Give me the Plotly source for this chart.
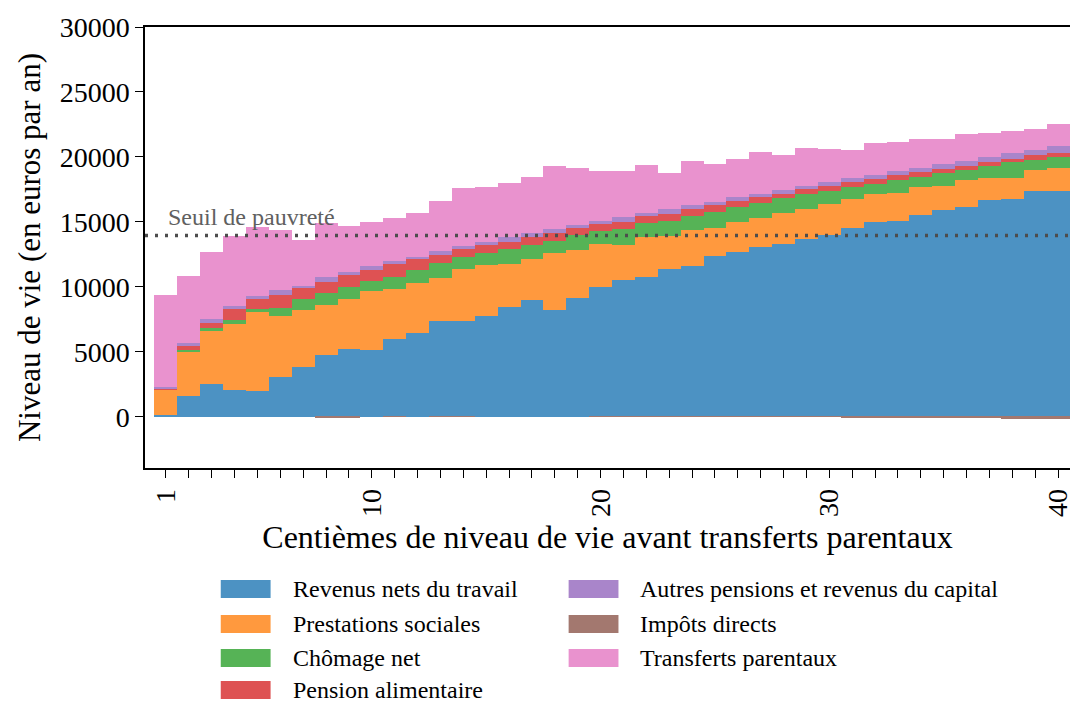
import plotly.graph_objects as go

# ---------------- data ----------------
centiles = list(range(1, 41))
revenus_travail = [100, 1615, 2540, 2077, 1954, 3054, 3823, 4769, 5184, 5161,
                   6000, 6438, 7361, 7380, 7723, 8461, 9000, 8231, 9154, 10000,
                   10515, 10746, 11338, 11615, 12338, 12646, 13053, 13261, 13669, 14000,
                   14538, 15000, 15053, 15538, 15923, 16154, 16692, 16769, 17384, 17384]
prestations = [2000, 3415, 4075, 5077, 6100, 4715, 4408, 3846, 3893, 4485,
               3846, 3870, 3331, 3958, 3923, 3262, 3107, 4338, 3646, 3308,
               2669, 3100, 2562, 2723, 2200, 2354, 2254, 2431, 2331, 2338,
               2185, 2107, 2178, 2154, 1846, 2077, 1692, 1638, 1616, 1770]
chomage = [30, 80, 230, 307, 254, 592, 846, 900, 900, 815,
           923, 1000, 1108, 970, 946, 1200, 1124, 969, 1177, 953,
           1231, 1030, 1130, 1123, 1231, 1154, 1154, 1154, 1154, 1000,
           969, 815, 1000, 769, 977, 769, 923, 1185, 769, 823]
pension_alim = [30, 350, 385, 800, 746, 1024, 876, 870, 923, 847,
                954, 800, 661, 568, 592, 538, 569, 616, 515, 585,
                561, 562, 585, 539, 515, 438, 415, 284, 338, 431,
                361, 361, 361, 362, 331, 284, 285, 254, 361, 307]
autres_pensions = [120, 210, 285, 231, 230, 361, 120, 338, 254, 284,
                   254, 200, 285, 254, 254, 339, 307, 261, 254, 231,
                   362, 208, 362, 284, 231, 308, 254, 331, 254, 284,
                   308, 308, 308, 307, 361, 439, 385, 438, 385, 539]
impots = [0, 0, 0, 0, 0, 0, 0, -30, -30, 0,
          -20, 0, -20, -20, 0, 0, 0, 0, 0, -20,
          -20, -20, -20, -20, -20, -20, -20, -20, -20, -20,
          -70, -40, -70, -70, -70, -40, -40, -150, -150, -150]
transferts = [7077, 5150, 5177, 5408, 5308, 4615, 3540, 4151, 3515, 3384,
              3307, 3361, 3846, 4462, 4231, 4200, 4354, 4892, 4408, 3846,
              3562, 3715, 2769, 3385, 2946, 2923, 3231, 2669, 2923, 2539,
              2154, 2461, 2230, 2231, 1923, 2023, 1846, 1693, 1615, 1715]
seuil_pauvrete = 13950
x_tick_labels = [1, 10, 20, 30, 40]
y_tick_values = [0, 5000, 10000, 15000, 20000, 25000, 30000]

series_names = ["Revenus nets du travail", "Prestations sociales", "Chômage net",
                "Pension alimentaire", "Autres pensions et revenus du capital",
                "Impôts directs", "Transferts parentaux"]
series_values = [revenus_travail, prestations, chomage, pension_alim,
                 autres_pensions, impots, transferts]
colors = ["#4c92c3", "#ff993e", "#56b356", "#de5253", "#a985ca", "#a3786f", "#e992ce"]

FONT = "Liberation Serif"

fig = go.Figure()
for name, vals, col in zip(series_names, series_values, colors):
    fig.add_trace(go.Bar(x=centiles, y=vals, name=name, width=1,
                         marker=dict(color=col, line=dict(width=0))))

fig.update_layout(
    width=1073, height=705,
    margin=dict(l=145, r=0, t=27, b=237),
    plot_bgcolor="white", paper_bgcolor="white",
    barmode="relative", bargap=0, showlegend=False,
    font=dict(family=FONT, color="black"),
)

fig.update_xaxes(
    range=[0.085, 40.52],
    tickmode="array", tickvals=centiles,
    ticktext=[str(c) if c in x_tick_labels else "" for c in centiles],
    tickangle=-90, ticks="outside", ticklen=8, tickwidth=1.3, tickcolor="black",
    tickfont=dict(family=FONT, size=28, color="black"),
    ticklabeloverflow="allow",
    showline=True, linecolor="black", linewidth=1.5, mirror=True,
    showgrid=False, zeroline=False,
    title=dict(text="Centièmes de niveau de vie avant transferts parentaux",
               font=dict(family=FONT, size=32, color="black"), standoff=10),
)
fig.update_yaxes(
    range=[-3950, 30000],
    tickmode="array", tickvals=y_tick_values,
    ticktext=[str(v) for v in y_tick_values],
    ticks="outside", ticklen=8, tickwidth=1.3, tickcolor="black",
    tickfont=dict(family=FONT, size=28, color="black"),
    showline=True, linecolor="black", linewidth=1.5, mirror=False,
    showgrid=False, zeroline=False,
    title=dict(text="Niveau de vie (en euros par an)",
               font=dict(family=FONT, size=31, color="black"), standoff=10),
)

# poverty line
fig.add_shape(type="line", xref="paper", x0=0, x1=1, yref="y",
              y0=seuil_pauvrete, y1=seuil_pauvrete,
              line=dict(color="#4d4d4d", width=3.3, dash="3px,7px"))
fig.add_annotation(x=1.0, y=seuil_pauvrete, xref="x", yref="y",
                   text="Seuil de pauvreté", showarrow=False,
                   xanchor="left", yanchor="bottom", yshift=3,
                   font=dict(family=FONT, size=24, color="#606060"))

# manual two-column legend (column-major)
px0, pw = 145, 928
py0, ph = 468, 441
def px2x(p):
    return (p - px0) / pw
def py2y(p):
    return (py0 - p) / ph
rows_y = [589, 624, 658, 690]
cols_x = [221, 570]
for i, (name, col) in enumerate(zip(series_names, colors)):
    c = 0 if i < 4 else 1
    r = i if i < 4 else i - 4
    xc = cols_x[c]
    yc = rows_y[r]
    fig.add_shape(type="rect", xref="paper", yref="paper",
                  x0=px2x(xc), x1=px2x(xc + 50), y0=py2y(yc + 9), y1=py2y(yc - 9),
                  fillcolor=col, line=dict(width=0))
    fig.add_annotation(xref="paper", yref="paper", x=px2x(xc + 70), y=py2y(yc),
                       text=name, showarrow=False, xanchor="left", yanchor="middle",
                       font=dict(family=FONT, size=24, color="black"))

fig.write_html("out.html", config={"displayModeBar": False},
               post_script="document.body.style.margin='0';document.body.style.overflow='hidden';")
